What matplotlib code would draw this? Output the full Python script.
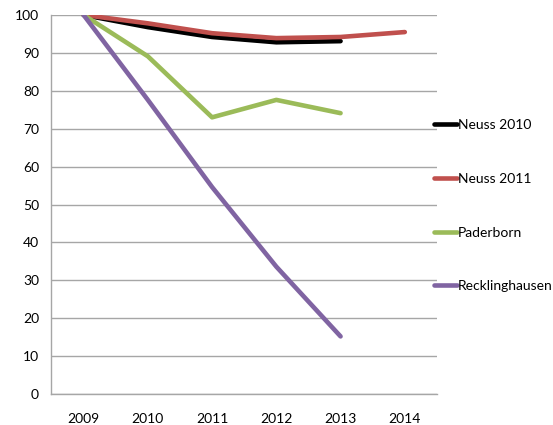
import matplotlib.pyplot as plt
import numpy as np

plt.rcParams['font.family'] = ['Lato', 'DejaVu Sans']

years = ['2009', '2010', '2011', '2012', '2013', '2014']
neuss_2010 = [100, 96.8, 94.2, 92.8, 93.1]
neuss_2011 = [100, 97.8, 95.2, 93.9, 94.2, 95.5]
paderborn = [100, 89.1, 73.0, 77.6, 74.1]
recklinghausen = [100, 77.6, 54.6, 33.6, 15.2]

series = [
    ('Neuss 2010', neuss_2010, '#000000'),
    ('Neuss 2011', neuss_2011, '#C0504D'),
    ('Paderborn', paderborn, '#9BBB59'),
    ('Recklinghausen', recklinghausen, '#8064A2'),
]

fig = plt.figure(figsize=(5.53, 4.25), dpi=100)
ax = fig.add_axes([0.0931, 0.0729, 0.697, 0.8918])

x = np.arange(len(years))
for name, vals, color in series:
    ax.plot(x[:len(vals)], vals, color=color, lw=3.3, label=name,
            solid_capstyle='round', solid_joinstyle='round')

ax.set_xlim(-0.5, len(years) - 0.5)
ax.set_ylim(0, 100)
ax.set_yticks(range(0, 101, 10))
ax.set_xticks(x)
ax.set_xticklabels(years)
ax.tick_params(length=0, labelsize=10, colors='black')
ax.tick_params(axis='y', pad=9)
ax.tick_params(axis='x', pad=14)
ax.grid(axis='y', color='#A6A6A6', lw=1)
ax.set_axisbelow(True)
for s in ['top', 'right']:
    ax.spines[s].set_visible(False)
for s in ['left', 'bottom']:
    ax.spines[s].set_color('#A6A6A6')
    ax.spines[s].set_linewidth(1)

leg = fig.legend(loc='center left', bbox_to_anchor=(0.772, 0.516),
                 frameon=False, fontsize=10, handlelength=1.7,
                 handletextpad=0.05, labelspacing=3.0, borderpad=0)

fig.savefig('out.png', dpi=100)
